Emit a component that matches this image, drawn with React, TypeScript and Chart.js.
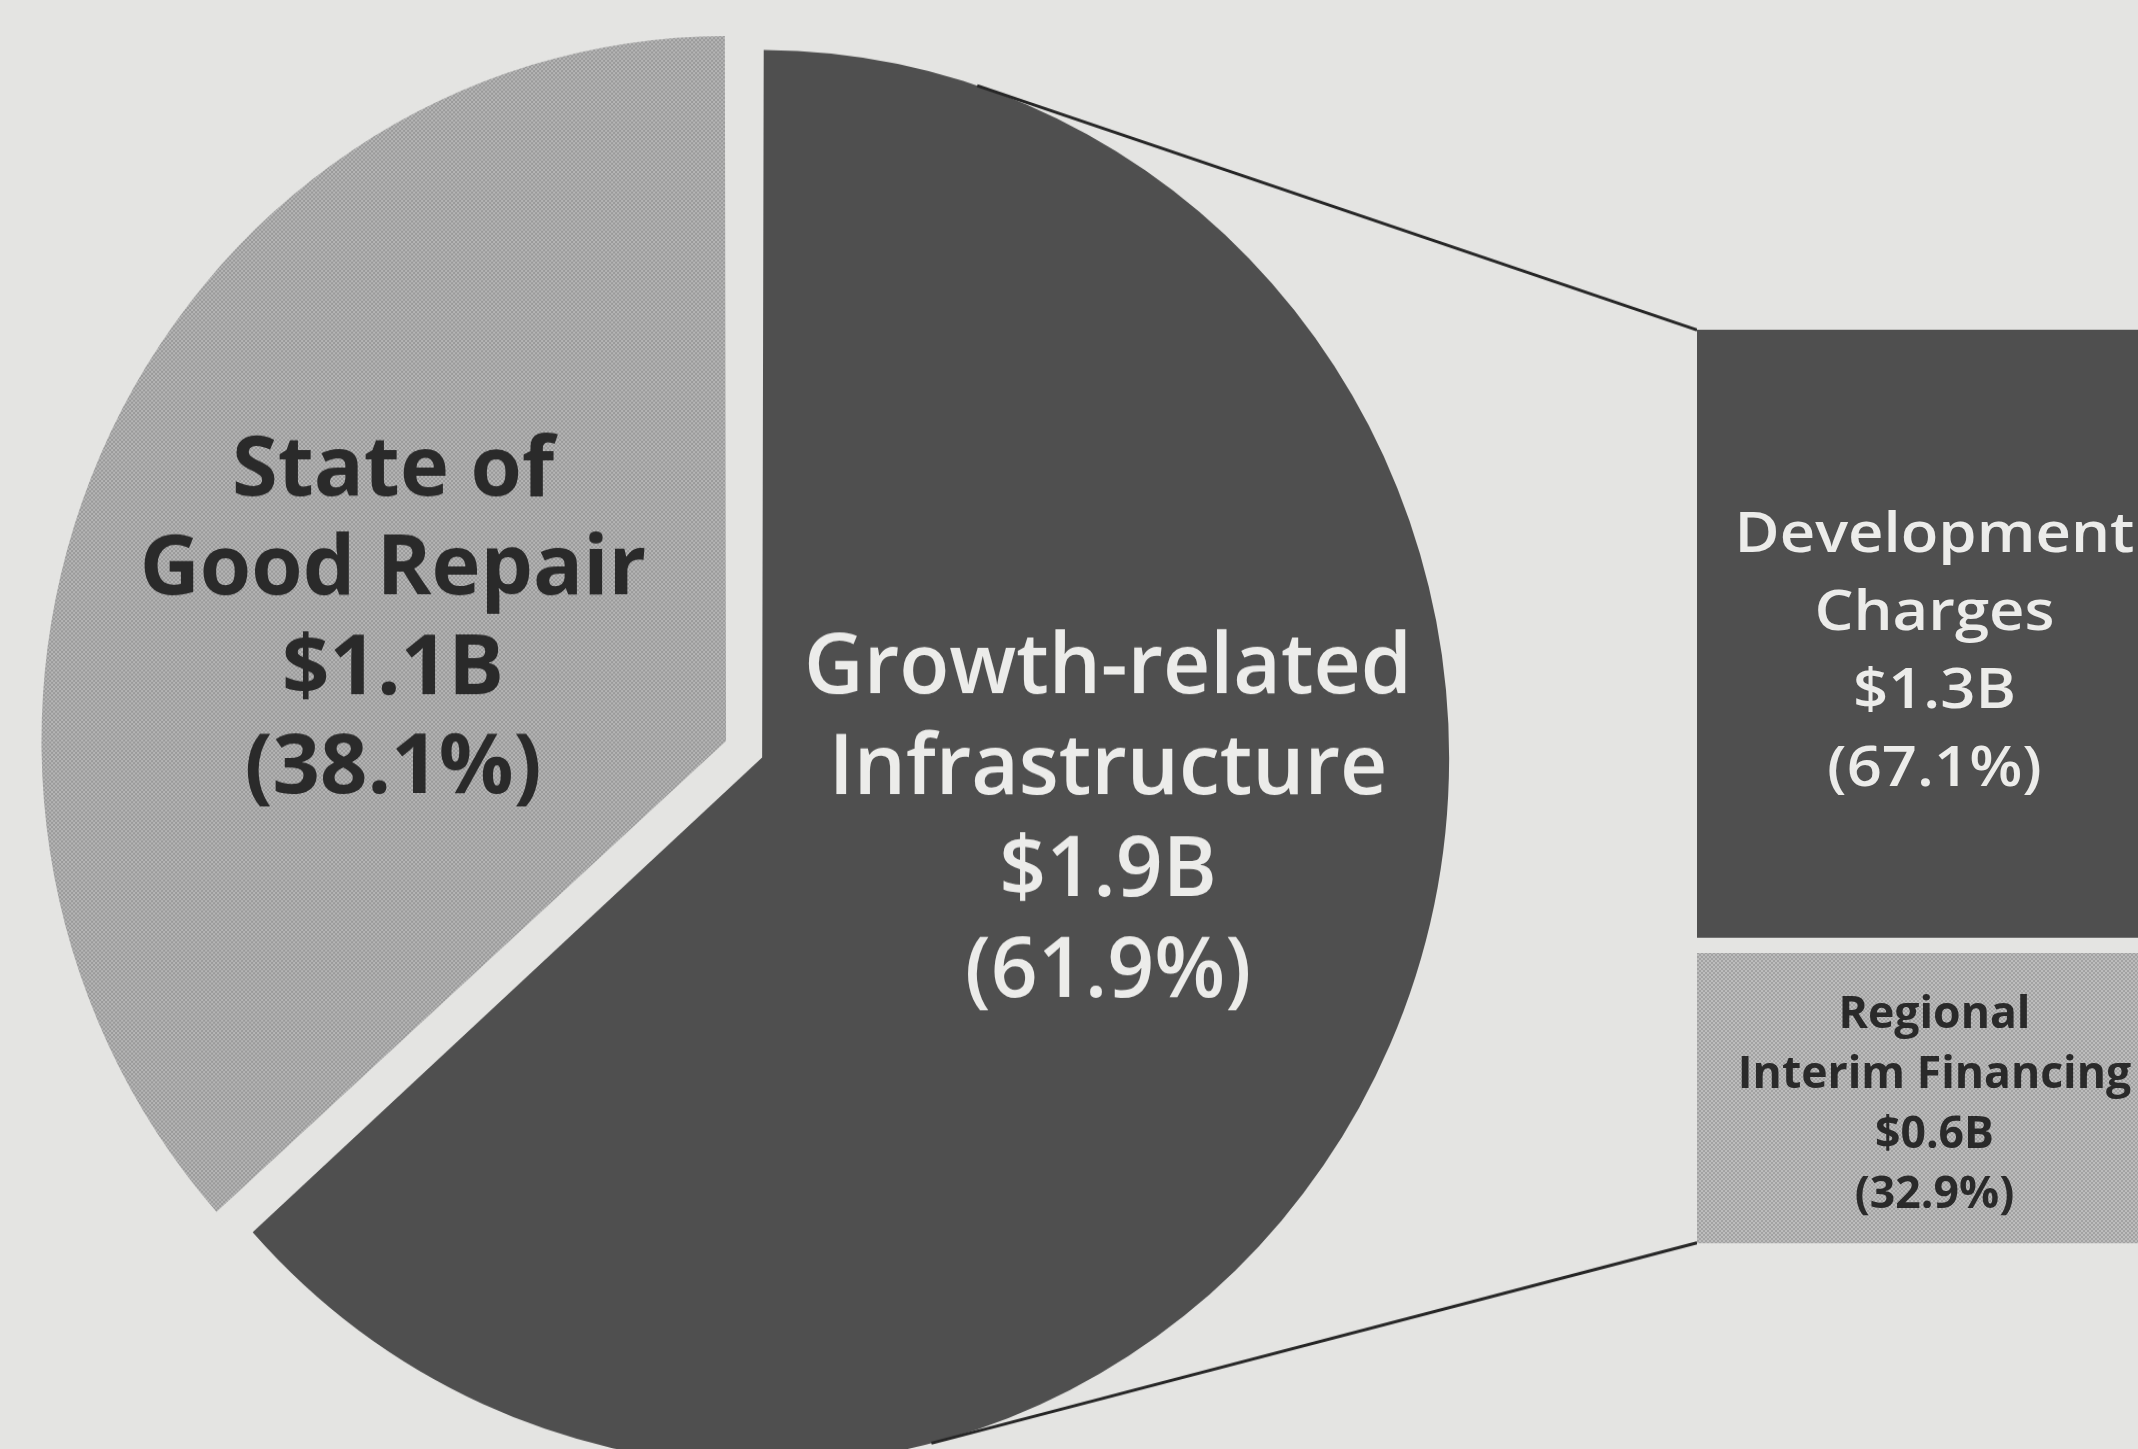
import React, { useEffect, useRef } from "react";
import { Chart, registerables } from "chart.js";

Chart.register(...registerables);

// ---------- data ----------
const PIE_NAMES = ["Growth-related Infrastructure", "State of Good Repair"];
const PIE_NAME_LINES = [["Growth-related", "Infrastructure"], ["State of", "Good Repair"]];
const PIE_VALUES = [1.9, 1.1]; // $ billions (the slices are drawn from these)
const PIE_AMOUNTS = ["$1.9B", "$1.1B"];
const PIE_PCTS = ["(61.9%)", "(38.1%)"];

// stacked bar: bottom dataset first
const BAR_CATEGORY = ["Growth-related Infrastructure"];
const BAR_NAMES = ["Regional Interim Financing", "Development Charges"];
const BAR_NAME_LINES = [["Regional", "Interim Financing"], ["Development", "Charges"]];
const BAR_VALUES = [32.9, 67.1];
const BAR_AMOUNTS = ["$0.6B", "$1.3B"];
const BAR_PCTS = ["(32.9%)", "(67.1%)"];

// ---------- layout / style ----------
const W = 2138;
const H = 1449;
const STRETCH = 1.03; // the printed pie is slightly taller than wide
const PIE_H = Math.round(H / STRETCH);
const BG = "#e4e4e2";
const DARK = "#4f4f4f";
const INK = "#2a2a2a";
const PAPER_TEXT = "#ececea";
const PIE_RADIUS = 677;
const PIE_OFFSET = [40, 118];
const PIE_PADDING = { left: 0, right: 632, top: 56, bottom: 0 };
const BAR_LEFT = 1697;
const BAR_WIDTH = 475;
const BAR_GAP = 8;

const PIE_TEXT_STYLE = [
  { x: 1108, y0: 693, lh: 101.3, font: "600 83px 'Open Sans'", color: PAPER_TEXT, sx: 0.99 },
  { x: 393, y0: 495, lh: 99.5, font: "700 83px 'Open Sans'", color: INK, sx: 1.0 },
];
const BAR_TEXT_STYLE = [
  { y0: 1028, lh: 60, font: "700 45px 'Open Sans'", color: INK, sx: 0.99 },
  { y0: 552, lh: 78, font: "600 56px 'Open Sans'", color: PAPER_TEXT, sx: 1.1 },
];

function makePattern(base: string, dot: string) {
  const c = document.createElement("canvas");
  c.width = 4;
  c.height = 4;
  const g = c.getContext("2d")!;
  g.fillStyle = base;
  g.fillRect(0, 0, 4, 4);
  g.fillStyle = dot;
  g.fillRect(0, 0, 2, 2);
  g.fillRect(2, 2, 2, 2);
  return g.createPattern(c, "repeat")!;
}

function drawText(ctx: CanvasRenderingContext2D, t: string, x: number, y: number, font: string, color: string, sx: number, sy = 1) {
  ctx.save();
  ctx.translate(x, y);
  ctx.scale(sx, sy);
  ctx.font = font;
  ctx.fillStyle = color;
  ctx.textAlign = "center";
  ctx.textBaseline = "alphabetic";
  ctx.fillText(t, 0, 0);
  ctx.restore();
}

export default function App() {
  const pieRef = useRef<HTMLCanvasElement>(null);
  const barRef = useRef<HTMLCanvasElement>(null);

  useEffect(() => {
    document.body.style.margin = "0";
    document.body.style.overflow = "hidden";
    const lightPie = makePattern("#b6b6b6", "#9a9a9a");
    const lightBar = makePattern("#bcbcbc", "#a2a2a2");

    const barText = {
      id: "barText",
      afterDatasetsDraw(chart: any) {
        const ctx = chart.ctx as CanvasRenderingContext2D;
        BAR_NAMES.forEach((_, i) => {
          const el = chart.getDatasetMeta(i).data[0];
          const st = BAR_TEXT_STYLE[i];
          const lines = [...BAR_NAME_LINES[i], BAR_AMOUNTS[i], BAR_PCTS[i]];
          lines.forEach((t, k) => drawText(ctx, t, el.x, st.y0 + k * st.lh, st.font, st.color, st.sx));
        });
      },
    };

    const bar = new Chart(barRef.current!, {
      type: "bar",
      data: {
        labels: BAR_CATEGORY,
        datasets: BAR_NAMES.map((name, i) => ({
          label: name,
          data: [BAR_VALUES[i]],
          backgroundColor: i === 0 ? lightBar : DARK,
          borderColor: BG,
          borderWidth: { top: BAR_GAP, bottom: BAR_GAP, left: 0, right: 0 },
          borderSkipped: false,
          barPercentage: 1,
          categoryPercentage: 1,
        })),
      },
      options: {
        responsive: false,
        animation: false,
        devicePixelRatio: 1,
        events: [],
        layout: { padding: { top: 322, bottom: 198, left: 0, right: 0 } },
        plugins: { legend: { display: false }, tooltip: { enabled: false } },
        scales: {
          x: { stacked: true, display: false },
          y: { stacked: true, display: false, min: 0, max: 100 },
        },
      },
      plugins: [barText],
    } as any);

    // pie canvas is drawn in a space compressed vertically by STRETCH
    const pieText = {
      id: "pieText",
      afterDatasetsDraw(chart: any) {
        const ctx = chart.ctx as CanvasRenderingContext2D;
        PIE_NAMES.forEach((_, i) => {
          const st = PIE_TEXT_STYLE[i];
          const lines = [...PIE_NAME_LINES[i], PIE_AMOUNTS[i], PIE_PCTS[i]];
          lines.forEach((t, k) =>
            drawText(ctx, t, st.x, (st.y0 + k * st.lh) / STRETCH, st.font, st.color, st.sx, 1 / STRETCH)
          );
        });
      },
    };

    const connectors = {
      id: "connectors",
      afterDraw(chart: any) {
        const ctx = chart.ctx as CanvasRenderingContext2D;
        const arc = chart.getDatasetMeta(0).data[0] as any;
        // geometry of the exploded dark slice, as ArcElement.draw renders it
        const half = (arc.startAngle + arc.endAngle) / 2;
        const o = (arc.options.offset || 0) / 4;
        const fix = 1 - Math.sin(Math.min(Math.PI, arc.circumference || 0));
        const cx = arc.x + Math.cos(half) * o;
        const cy = arc.y + Math.sin(half) * o;
        const r = arc.outerRadius + o * fix;
        const top = bar.getDatasetMeta(1).data[0] as any;
        const bottom = bar.getDatasetMeta(0).data[0] as any;
        const pTop = { x: BAR_LEFT + top.x - top.width / 2, y: (top.y + BAR_GAP) / STRETCH };
        const pBot = { x: BAR_LEFT + bottom.x - bottom.width / 2, y: (bottom.base - BAR_GAP) / STRETCH };
        const tangent = (p: { x: number; y: number }, sign: number) => {
          const dx = p.x - cx, dy = p.y - cy;
          const d = Math.hypot(dx, dy);
          const a = Math.atan2(dy, dx) + sign * Math.acos(r / d);
          return { x: cx + r * Math.cos(a), y: cy + r * Math.sin(a) };
        };
        const t1 = tangent(pTop, -1);
        const t2 = tangent(pBot, 1);
        ctx.save();
        ctx.strokeStyle = "#262626";
        ctx.lineWidth = 3;
        ctx.beginPath();
        ctx.moveTo(t1.x, t1.y);
        ctx.lineTo(pTop.x, pTop.y);
        ctx.moveTo(t2.x, t2.y);
        ctx.lineTo(pBot.x, pBot.y);
        ctx.stroke();
        ctx.restore();
      },
    };

    const pie = new Chart(pieRef.current!, {
      type: "pie",
      data: {
        labels: PIE_NAMES,
        datasets: [
          {
            data: PIE_VALUES,
            backgroundColor: [DARK, lightPie],
            borderWidth: 0,
            offset: PIE_OFFSET,
          },
        ],
      },
      options: {
        responsive: false,
        animation: false,
        devicePixelRatio: 1,
        events: [],
        radius: PIE_RADIUS,
        layout: { padding: PIE_PADDING },
        plugins: { legend: { display: false }, tooltip: { enabled: false } },
      },
      plugins: [pieText, connectors],
    } as any);

    return () => {
      pie.destroy();
      bar.destroy();
    };
  }, []);

  return (
    <div style={{ position: "fixed", left: 0, top: 0, width: W, height: H, overflow: "hidden", background: BG }}>
      <canvas ref={pieRef} width={W} height={PIE_H} style={{ position: "absolute", left: 0, top: 0, width: W, height: H }} />
      <canvas
        ref={barRef}
        width={BAR_WIDTH}
        height={H}
        style={{ position: "absolute", left: BAR_LEFT, top: 0, width: BAR_WIDTH, height: H }}
      />
    </div>
  );
}
